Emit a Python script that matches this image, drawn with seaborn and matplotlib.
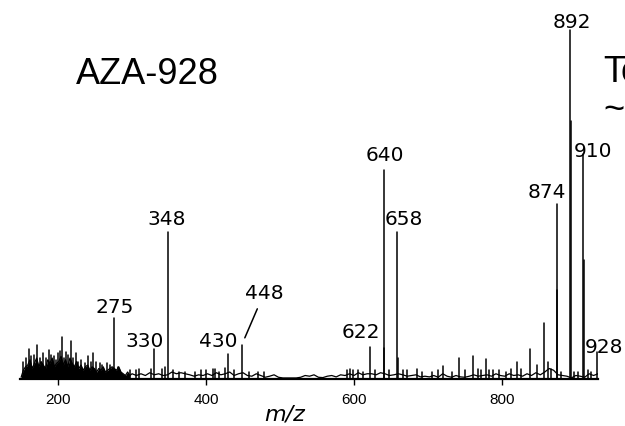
# mass spectrum of AZA-928 redrawn as stick spectrum over a noise trace

import numpy as np
import pandas as pd
import matplotlib
matplotlib.use("Agg")
import matplotlib.pyplot as plt
import seaborn as sns

# labelled peaks (m/z, relative intensity %)
peak_mz = [275, 330, 348, 430, 448, 622, 640, 658, 874, 892, 910, 928]
peak_int = [17.5, 8.6, 42, 7.2, 9.6, 9.2, 60, 42, 50, 100, 64.5, 7.7]

# overlaid second trace next to the big peaks
shoulder_mz = [641, 659, 875, 893, 911]
shoulder_int = [9, 6, 25.5, 74, 34]

# unlabelled spikes
minor_mz = [153, 157, 161, 164, 168, 172, 176, 180, 184, 188, 191, 194, 197, 200,
            203, 205, 208, 211, 214, 217, 220, 224, 227, 231, 236, 240, 244, 247,
            251, 257, 260, 266, 270, 281, 297, 305, 309, 326, 341, 345, 356, 363,
            372, 385, 393, 400, 409, 412, 418, 426, 438, 458, 470, 479, 590, 595,
            599, 605, 612, 628, 648, 666, 672, 685, 692, 705, 713, 720, 733, 742,
            750, 761, 768, 772, 778, 783, 788, 796, 805, 812, 820, 826, 838, 848,
            857, 862, 866, 880, 898, 903, 916, 921]
minor_int = [5, 6, 8.6, 6.5, 7, 9.7, 6, 7.4, 6, 8.3, 7, 6.6, 5.5, 7.4,
             8, 12, 6, 7.7, 7, 10.9, 6, 7.4, 5, 5.4, 4.5, 6.6, 5, 7.4,
             5, 4.6, 4, 4.6, 4, 3.4, 2.5, 2.5, 3.0, 3.0, 3.0, 3.5, 2.5, 2.0,
             2.0, 2.0, 2.5, 2.5, 3.0, 3.0, 2.0, 3.2, 2.5, 2.0, 2.0, 2.0, 2.5, 3.0,
             2.5, 2.5, 2.0, 2.5, 2.5, 2.6, 2.5, 3.0, 2.0, 2.0, 2.5, 3.7, 2.0, 6.0,
             2.5, 6.6, 3.0, 2.5, 5.7, 2.5, 2.6, 2.5, 2.0, 3.0, 5.0, 3.0, 8.6, 4.0,
             16, 5.0, 3.0, 2.0, 2.0, 2.0, 2.5, 2.0]

# noise floor, m/z 150-297 every 3
noise_dense = [0.5, 2.5, 3.5, 4.0, 5.5, 3.0, 4.5, 6.0, 3.5, 5.0,
               4.0, 3.0, 5.5, 4.5, 6.0, 3.5, 4.5, 5.0, 6.5, 4.0,
               5.5, 3.5, 6.0, 4.5, 3.5, 5.0, 3.0, 4.0, 2.5, 3.5,
               4.0, 2.5, 3.5, 3.0, 2.0, 3.0, 2.5, 3.5, 2.0, 2.5,
               3.0, 3.5, 3.0, 2.5, 3.5, 2.0, 1.5, 1.0, 2.0, 1.0]
# noise floor, m/z 300-930 every 6
noise_sparse = [1.5, 1.0, 1.5, 1.0, 1.8, 1.2, 1.5, 1.0, 1.2, 2.0,
                1.5, 1.8, 1.5, 1.2, 0.8, 1.2, 1.0, 1.5, 1.0, 1.8,
                1.2, 1.5, 2.0, 1.0, 1.5, 1.8, 1.0, 0.8, 1.5, 1.0,
                0.5, 0.8, 1.2, 0.5, 0.3, 0.3, 0.3, 0.3, 0.5, 1.0,
                0.8, 1.2, 0.5, 0.4, 0.8, 1.0, 0.6, 1.2, 1.0, 1.5,
                1.0, 1.8, 1.2, 1.5, 1.5, 1.2, 1.8, 1.5, 1.0, 1.2,
                1.5, 1.2, 0.8, 1.0, 1.2, 0.6, 0.8, 0.6, 1.0, 0.5,
                1.5, 0.8, 0.5, 1.0, 0.6, 0.5, 0.8, 1.2, 0.8, 1.0,
                1.2, 0.8, 1.5, 1.0, 0.8, 1.5, 1.0, 1.2, 0.8, 1.5,
                1.0, 1.8, 1.2, 2.0, 3.0, 2.5, 1.2, 1.0, 0.8, 0.3,
                1.0, 0.8, 0.5, 1.5, 1.0, 1.5]

# label offsets in pixels (dx, dy from peak top)
label_off = {275: (1, 5), 330: (-10, 2), 348: (-1, 7), 430: (-10, 7),
             622: (-9, 9), 640: (1, 9), 658: (7, 7), 874: (-10, 6),
             892: (2, 2), 910: (10, -3), 928: (7, -1)}

sns.set_style("ticks")
plt.rcParams["font.family"] = ["DejaVu Sans"]
plt.rcParams["text.color"] = "black"
plt.rcParams["xtick.color"] = "black"
plt.rcParams["axes.labelcolor"] = "black"

fig = plt.figure(figsize=(6.25, 4.26), dpi=100)
ax = fig.add_axes([20 / 625, 47 / 426, 578 / 625, 366.5 / 426])

# noise trace
dense_mz = 150 + 3 * np.arange(len(noise_dense))
sparse_mz = 300 + 6 * np.arange(len(noise_sparse))
noise = pd.DataFrame({"mz": np.concatenate([dense_mz, sparse_mz]),
                      "int": noise_dense + noise_sparse})
ax.fill_between(dense_mz, 0, noise_dense, color="black", lw=0)
sns.lineplot(data=noise, x="mz", y="int", color="black", lw=0.9,
             estimator=None, ax=ax)

# sticks
all_mz = peak_mz + shoulder_mz + minor_mz
all_int = peak_int + shoulder_int + minor_int
rows = []
for i, (m, h) in enumerate(zip(all_mz, all_int)):
    rows.append((m, 0.0, i))
    rows.append((m, h, i))
sticks = pd.DataFrame(rows, columns=["mz", "int", "pk"])
sns.lineplot(data=sticks, x="mz", y="int", units="pk", estimator=None,
             sort=False, color="black", lw=1.1, ax=ax)

# peak labels
for m, h in zip(peak_mz, peak_int):
    if m == 448:
        ax.annotate(str(m), xy=(m, h), xytext=(23, 52), textcoords="offset pixels",
                    ha="center", va="center", fontsize=14.5, color="black",
                    arrowprops=dict(arrowstyle="-", color="black", lw=1.1,
                                    shrinkA=2, shrinkB=6, relpos=(0.4, 0.1)),
                    annotation_clip=False)
    else:
        dx, dy = label_off[m]
        ax.annotate(str(m), xy=(m, h), xytext=(dx, dy), textcoords="offset pixels",
                    ha="center", va="baseline", fontsize=14.5, color="black",
                    annotation_clip=False)

ax.set_xlim(148.5, 930)
ax.set_ylim(0, 105)
sns.despine(ax=ax, left=True, top=True, right=True)
ax.spines["bottom"].set_linewidth(1.6)
ax.spines["bottom"].set_color("black")
ax.set_yticks([])
ax.set_xticks([200, 400, 600, 800])
ax.tick_params(axis="x", length=4.3, width=1, pad=6, labelsize=11,
               color="black", labelcolor="black")
for t in ax.get_xticklabels():
    t.set_fontfamily("Liberation Sans")
ax.set_xlabel("")
ax.set_ylabel("")

fig.text(285 / 625, 1 - 414 / 426, "m/z", ha="center", va="center",
         fontsize=16, style="italic", color="black")
fig.text(76 / 625, 1 - 84 / 426, "AZA-928", ha="left", va="baseline",
         fontsize=26, family="Liberation Sans", color="black")
fig.text(603 / 625, 1 - 82 / 426, "To", ha="left", va="baseline",
         fontsize=26, family="Liberation Sans", color="black")
fig.text(603 / 625, 1 - 120 / 426, "~", ha="left", va="baseline",
         fontsize=26, family="Liberation Sans", color="black")

fig.savefig("out.png", dpi=100)
